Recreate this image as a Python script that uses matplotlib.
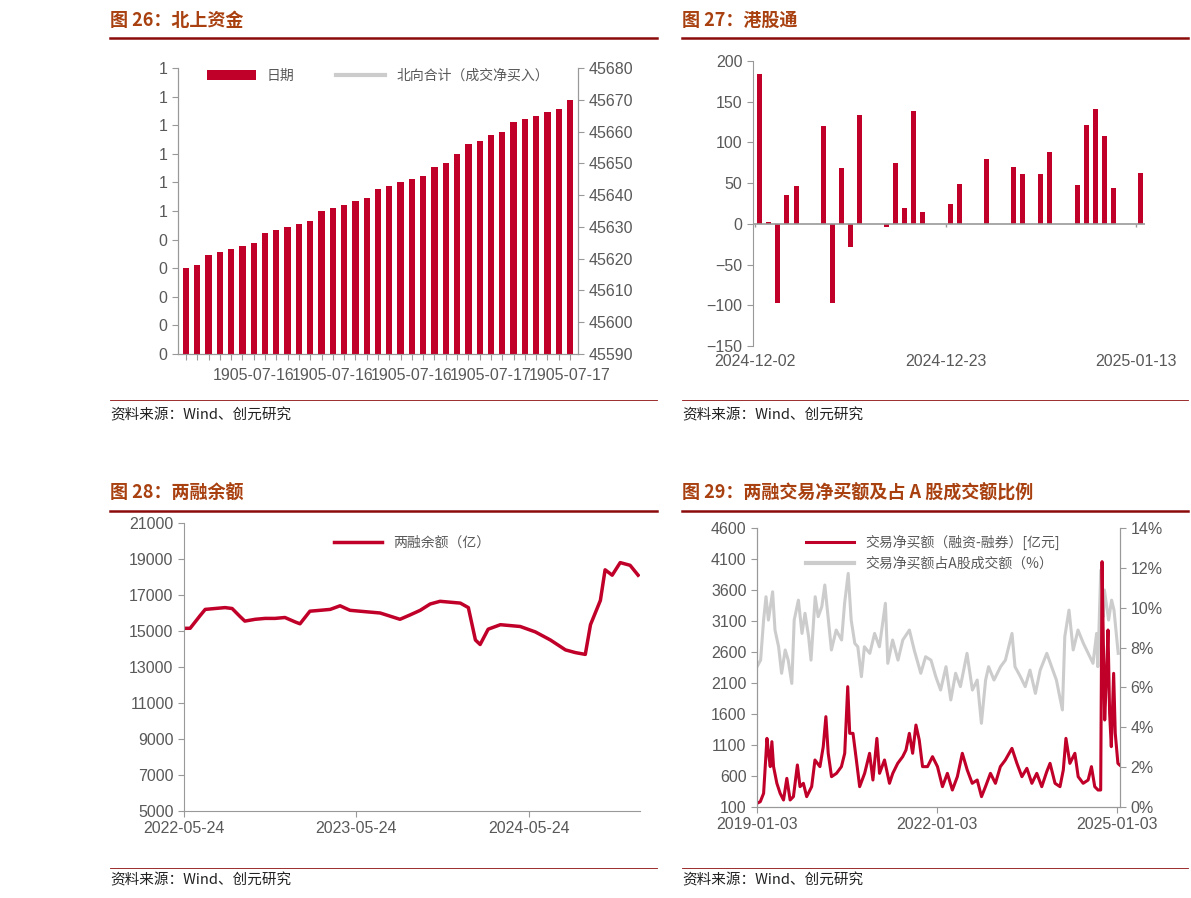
import numpy as np
import pandas as pd
import matplotlib
matplotlib.use("Agg")
import matplotlib.pyplot as plt
import matplotlib.dates as mdates
from matplotlib.ticker import FuncFormatter

plt.rcParams['font.family'] = ['Liberation Sans', 'Noto Sans CJK SC', 'DejaVu Sans']
CJK = ['Noto Sans CJK SC', 'DejaVu Sans']
RED = '#c00029'
GRAY = '#cccccc'
TXT = '#595959'

# ---- fig 26: north-bound funds ----
bars26 = [45617, 45618, 45621, 45622, 45623, 45624, 45625, 45628, 45629, 45630,
          45631, 45632, 45635, 45636, 45637, 45638, 45639, 45642, 45643, 45644,
          45645, 45646, 45649, 45650, 45653, 45656, 45657, 45659, 45660, 45663,
          45664, 45665, 45666, 45667, 45670]
left26_labels = ['0', '0', '0', '0', '0', '1', '1', '1', '1', '1', '1']
xlab26 = {6: '1905-07-16', 13: '1905-07-16', 20: '1905-07-16', 27: '1905-07-17', 34: '1905-07-17'}

# ---- fig 27: southbound (day offset from 2024-12-02, value) ----
days27 = [0, 1, 2, 3, 4, 7, 8, 9, 10, 11, 14, 15, 16, 17, 18, 21, 22, 25, 28, 29,
          31, 32, 35, 36, 37, 38, 39, 42]
vals27 = [184, 2, -97, 35, 46, 120, -97, 68, -28, 134, -4, 75, 20, 138, 15, 25, 49,
          80, 70, 61, 61, 88, 48, 122, 141, 108, 44, 62]

# ---- fig 28: margin balance (days from 2022-05-24) ----
days28 = [0, 13, 34, 45, 66, 87, 102, 119, 129, 151, 172, 193, 214, 236, 246, 267, 289,
          310, 331, 352, 373, 416, 458, 480, 501, 522, 543, 586, 603, 618, 628, 645, 671,
          692, 713, 745, 777, 809, 830, 851, 862, 883, 893, 908, 925, 946, 963]
vals28 = [15150, 15150, 15850, 16200, 16250, 16300, 16250, 15800, 15550, 15650, 15700,
          15700, 15750, 15500, 15400, 16100, 16150, 16200, 16400, 16150, 16100, 16000,
          15650, 15900, 16150, 16500, 16650, 16550, 16300, 14500, 14250, 15100, 15350,
          15300, 15250, 14950, 14500, 13950, 13800, 13700, 15350, 16700, 18400, 18100,
          18800, 18650, 18100]

# ---- fig 29: net buy & ratio (years from 2019-01-03) ----
t_red = [0, .055, .11, .166, .193, .221, .248, .276, .331, .386, .442, .497, .552, .607,
         .673, .717, .773, .828, .911, .966, 1.049, 1.104, 1.148, 1.187, 1.242, 1.325,
         1.407, 1.462, 1.512, 1.545, 1.6, 1.656, 1.711, 1.794, 1.876, 1.932, 1.998, 2.042,
         2.125, 2.208, 2.263, 2.345, 2.428, 2.483, 2.539, 2.594, 2.649, 2.704, 2.759,
         2.842, 2.925, 3.008, 3.091, 3.173, 3.256, 3.339, 3.422, 3.504, 3.587, 3.67,
         3.742, 3.808, 3.891, 3.974, 4.056, 4.139, 4.249, 4.332, 4.415, 4.498, 4.581,
         4.663, 4.746, 4.829, 4.884, 4.967, 5.05, 5.105, 5.149, 5.215, 5.298, 5.353,
         5.436, 5.519, 5.574, 5.629, 5.684, 5.728, 5.751, 5.767, 5.795, 5.822, 5.85,
         5.877, 5.905, 5.944, 5.971, 6.015, 6.043]
net_buy = [159, 186, 320, 1207, 966, 751, 1154, 751, 482, 320, 213, 562, 213, 267, 778,
           428, 482, 267, 428, 858, 751, 1073, 1557, 966, 589, 643, 751, 966, 2041, 1288,
           1288, 858, 428, 643, 966, 535, 1207, 643, 858, 482, 643, 804, 912, 1019, 1288,
           966, 1422, 1181, 751, 751, 912, 751, 428, 643, 374, 589, 966, 697, 482, 535,
           267, 428, 643, 482, 751, 858, 1046, 804, 589, 724, 482, 643, 428, 670, 804,
           482, 428, 697, 1207, 804, 966, 589, 482, 535, 751, 428, 374, 374, 4057, 3062,
           1503, 2148, 2955, 1611, 1073, 2256, 1288, 804, 778]
t_gray = [0, .06, .11, .15, .19, .26, .30, .36, .41, .47, .52, .58, .62, .69, .75, .80,
          .86, .90, .97, 1.02, 1.08, 1.13, 1.19, 1.24, 1.32, 1.41, 1.46, 1.52, 1.57, 1.63,
          1.68, 1.74, 1.79, 1.88, 1.96, 2.04, 2.14, 2.18, 2.26, 2.35, 2.43, 2.54, 2.62,
          2.73, 2.81, 2.90, 2.98, 3.06, 3.15, 3.23, 3.31, 3.39, 3.50, 3.59, 3.67, 3.74,
          3.81, 3.86, 3.95, 4.06, 4.14, 4.25, 4.30, 4.39, 4.47, 4.55, 4.64, 4.72, 4.83,
          4.91, 4.99, 5.09, 5.13, 5.20, 5.27, 5.35, 5.44, 5.52, 5.60, 5.66, 5.68, 5.73,
          5.77, 5.79, 5.86, 5.91, 5.95, 6.02]
ratio = [7.04, 7.37, 9.38, 10.55, 9.38, 10.8, 8.88, 8.04, 6.71, 7.88, 7.37, 6.2, 9.38,
         10.38, 8.71, 9.72, 8.55, 7.37, 10.55, 9.55, 10.05, 11.14, 9.38, 7.88, 8.88, 8.38,
         10.22, 11.72, 9.38, 8.21, 8.04, 6.54, 8.04, 7.71, 8.71, 8.04, 10.22, 7.21, 8.38,
         7.37, 8.38, 8.88, 7.88, 6.71, 7.54, 7.37, 6.54, 5.87, 7.04, 5.37, 6.71, 6.04,
         7.71, 5.87, 6.37, 4.2, 6.37, 7.04, 6.37, 7.04, 7.37, 8.71, 7.04, 6.54, 6.04, 6.87,
         5.7, 6.87, 7.71, 7.04, 6.37, 4.87, 8.55, 9.88, 7.88, 8.88, 8.21, 7.71, 7.21, 8.71,
         7.04, 11.89, 9.55, 10.89, 9.38, 10.38, 9.88, 7.71]

fig = plt.figure(figsize=(11.91, 8.98), dpi=100)


def header(x0, x1, y_title, y_line, title, y_src_line, y_src):
    fig.text(x0 / 1191, 1 - y_title / 898, title, family=CJK, fontsize=13, fontweight='bold',
             color='#a8400f', va='center')
    fig.add_artist(plt.Line2D([x0 / 1191, x1 / 1191], [1 - y_line / 898] * 2, color='#8b0a0a', lw=1.8))
    fig.add_artist(plt.Line2D([x0 / 1191, x1 / 1191], [1 - y_src_line / 898] * 2, color='#8b0a0a', lw=0.6))
    fig.text(x0 / 1191, 1 - y_src / 898, '资料来源：Wind、创元研究', family=CJK, fontsize=10.5,
             color='#222222', va='center')


header(110, 657, 20, 38, '图 26：北上资金', 400, 415)
header(682, 1188, 20, 38, '图 27：港股通', 400, 415)
header(110, 657, 493, 511, '图 28：两融余额', 868, 880)
header(682, 1188, 493, 511, '图 29：两融交易净买额及占 A 股成交额比例', 868, 880)


def style(ax):
    for s in ax.spines.values():
        s.set_color('#999999')
    ax.tick_params(colors=TXT, labelsize=11.5, length=4, color='#999999')


# fig 26
ax = fig.add_axes([178 / 1191, 1 - 354 / 898, 400 / 1191, 286 / 898])
ax2 = ax.twinx()
x26 = np.arange(len(bars26))
h_bar = ax2.bar(x26, np.array(bars26) - 45590, bottom=45590, width=0.55, color=RED, label='日期')
h_line, = ax2.plot([], [], color=GRAY, lw=3, label='北向合计（成交净买入）')
ax2.set_ylim(45590, 45680)
ax2.set_yticks(np.arange(45590, 45681, 10))
ax.set_ylim(0, 1)
ax.set_yticks(np.linspace(0, 1, 11))
ax.set_yticklabels(left26_labels)
ax.set_xlim(-0.7, len(bars26) - 0.3)
ax.set_xticks(x26)
ax.set_xticklabels([xlab26.get(i, '') for i in x26])
for a in (ax, ax2):
    style(a)
    a.spines['top'].set_visible(False)
ax.tick_params(axis='x', pad=6)
leg = ax2.legend(handles=[h_bar, h_line], loc='upper center', ncol=2, frameon=False,
                 prop={'family': CJK, 'size': 10},
                 bbox_to_anchor=(0.5, 1.04), handlelength=3.5, columnspacing=3)
for t in leg.get_texts():
    t.set_color(TXT)

# fig 27
ax = fig.add_axes([753 / 1191, 1 - 346 / 898, 392 / 1191, 285 / 898])
d0 = pd.Timestamp('2024-12-02')
dates27 = [d0 + pd.Timedelta(days=d) + pd.Timedelta(hours=12) for d in days27]
ax.bar(dates27, vals27, width=0.55, color=RED)
ax.set_xlim(d0 - pd.Timedelta(hours=6), d0 + pd.Timedelta(days=43))
ax.set_ylim(-150, 200)
ax.set_yticks(np.arange(-150, 201, 50))
ax.axhline(0, color='#999999', lw=1.2)
tick_dates = [d0, d0 + pd.Timedelta(days=21), d0 + pd.Timedelta(days=42)]
ax.vlines(tick_dates, -4, 0, color='#999999', lw=1)
ax.set_xticks(tick_dates)
ax.set_xticklabels(['2024-12-02', '2024-12-23', '2025-01-13'])
style(ax)
ax.tick_params(axis='x', length=0, pad=6)
for s in ('top', 'right', 'bottom'):
    ax.spines[s].set_visible(False)

# fig 28
ax = fig.add_axes([184 / 1191, 1 - 811 / 898, 456 / 1191, 288 / 898])
s28 = pd.Timestamp('2022-05-24')
ax.plot([s28 + pd.Timedelta(days=d) for d in days28], vals28, color=RED, lw=2.5,
        label='两融余额（亿）')
ax.set_ylim(5000, 21000)
ax.set_yticks(np.arange(5000, 21001, 2000))
ax.set_xlim(s28, s28 + pd.Timedelta(days=967))
ax.set_xticks([pd.Timestamp('2022-05-24'), pd.Timestamp('2023-05-24'), pd.Timestamp('2024-05-24')])
ax.xaxis.set_major_formatter(mdates.DateFormatter('%Y-%m-%d'))
style(ax)
for s in ('top', 'right'):
    ax.spines[s].set_visible(False)
leg = ax.legend(loc='upper center', frameon=False, prop={'family': CJK, 'size': 10},
                bbox_to_anchor=(0.5, 1.0), handlelength=3.5)
for t in leg.get_texts():
    t.set_color(TXT)

# fig 29
ax = fig.add_axes([757 / 1191, 1 - 807 / 898, 363 / 1191, 279 / 898])
ax2 = ax.twinx()
s29 = pd.Timestamp('2019-01-03')
to_dates = lambda ts: [s29 + pd.Timedelta(days=t * 365.25) for t in ts]
ax2.plot(to_dates(t_gray), ratio, color=GRAY, lw=2.2)
ax.plot(to_dates(t_red), net_buy, color=RED, lw=2.2, label='交易净买额（融资-融券）[亿元]')
ax.plot([], [], color=GRAY, lw=3, label='交易净买额占A股成交额（%）')
ax.set_zorder(ax2.get_zorder() + 1)
ax.patch.set_visible(False)
ax.set_ylim(100, 4600)
ax.set_yticks(np.arange(100, 4601, 500))
ax2.set_ylim(0, 14)
ax2.set_yticks(np.arange(0, 15, 2))
ax2.yaxis.set_major_formatter(FuncFormatter(lambda v, p: f'{v:.0f}%'))
ax.set_xlim(s29, s29 + pd.Timedelta(days=6.05 * 365.25))
ax.set_xticks([pd.Timestamp('2019-01-03'), pd.Timestamp('2022-01-03'), pd.Timestamp('2025-01-03')])
ax.xaxis.set_major_formatter(mdates.DateFormatter('%Y-%m-%d'))
for a in (ax, ax2):
    style(a)
    a.spines['top'].set_visible(False)
leg = ax.legend(loc='upper left', frameon=False, prop={'family': CJK, 'size': 10},
                bbox_to_anchor=(0.1, 1.02), handlelength=3.5)
for t in leg.get_texts():
    t.set_color(TXT)

fig.savefig('out.png', dpi=100)
